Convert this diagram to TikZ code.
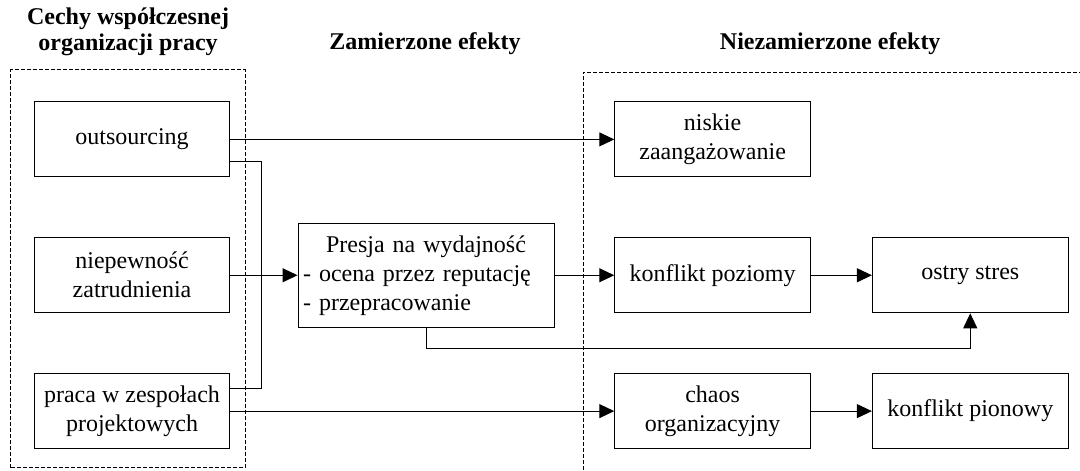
\documentclass[tikz,border=0pt]{standalone}
\usepackage{fontspec}
\setmainfont{Liberation Serif}
\usetikzlibrary{arrows.meta,positioning}

\tikzset{
  box/.style={draw, line width=0.5pt, minimum width=3.44cm, minimum height=1.32cm, align=center, inner sep=2pt},
  frame/.style={line width=0.5pt, dash pattern=on 2pt off 1pt},
  title/.style={font=\fontsize{12}{13}\selectfont\bfseries, align=center},
  link/.style={->, line width=0.5pt}
}

\begin{document}
\begin{tikzpicture}[font=\fontsize{12}{14.5}\selectfont, >={Triangle[length=7.5pt,width=7pt]}]
\useasboundingbox (0,0) rectangle (18.98,8.26);
% column titles
\node[title] (tcechy) at (2.25,7.70) {Cechy współczesnej\\organizacji pracy};
\node[title] (tzam) at (7.47,7.49) {Zamierzone efekty};
\node[title] (tniezam) at (14.59,7.49) {Niezamierzone efekty};
% frames
\draw[frame] (0.19,0.04) rectangle (4.31,7.03);
\draw[frame] (10.25,0) -- (10.25,6.99) -- (18.98,6.99);
% features
\node[box] (outsourcing) at (2.32,5.81) {outsourcing};
\node[box, below=1.05cm of outsourcing] (niepewnosc) {niepewność\\zatrudnienia};
\node[box, below=1.05cm of niepewnosc] (praca) {praca w zespołach\\projektowych};
% intended effect
\node[draw, line width=0.5pt, right=1.18cm of niepewnosc, text width=123pt, inner xsep=2.5pt, minimum height=52pt, align=left] (presja)
  {\makebox[123pt]{Presja na wydajność}\\- ocena przez reputację\\- przepracowanie};
% unintended effects
\node[box, right=1.05cm of presja] (kpoziomy) {konflikt poziomy};
\node[box, right=1.07cm of kpoziomy] (stres) {ostry stres};
\node[box, above=1.05cm of kpoziomy] (niskie) {niskie\\zaangażowanie};
\node[box, below=1.05cm of kpoziomy] (chaos) {chaos\\organizacyjny};
\node[box, right=1.07cm of chaos] (kpionowy) {konflikt pionowy};
% connectors
\draw[link] (outsourcing) -- (niskie);
\draw[line width=0.5pt] ([yshift=-0.39cm]outsourcing.east) -- ++(0.54,0) |- ([yshift=0.4cm]praca.east);
\draw[link] (niepewnosc) -- (presja);
\draw[link] (praca) -- (chaos);
\draw[link] (presja) -- (kpoziomy);
\draw[link] (kpoziomy) -- (stres);
\draw[link] (presja.south) -- ++(0,-0.37) -| (stres.south);
\draw[link] (chaos) -- (kpionowy);
\end{tikzpicture}
\end{document}
